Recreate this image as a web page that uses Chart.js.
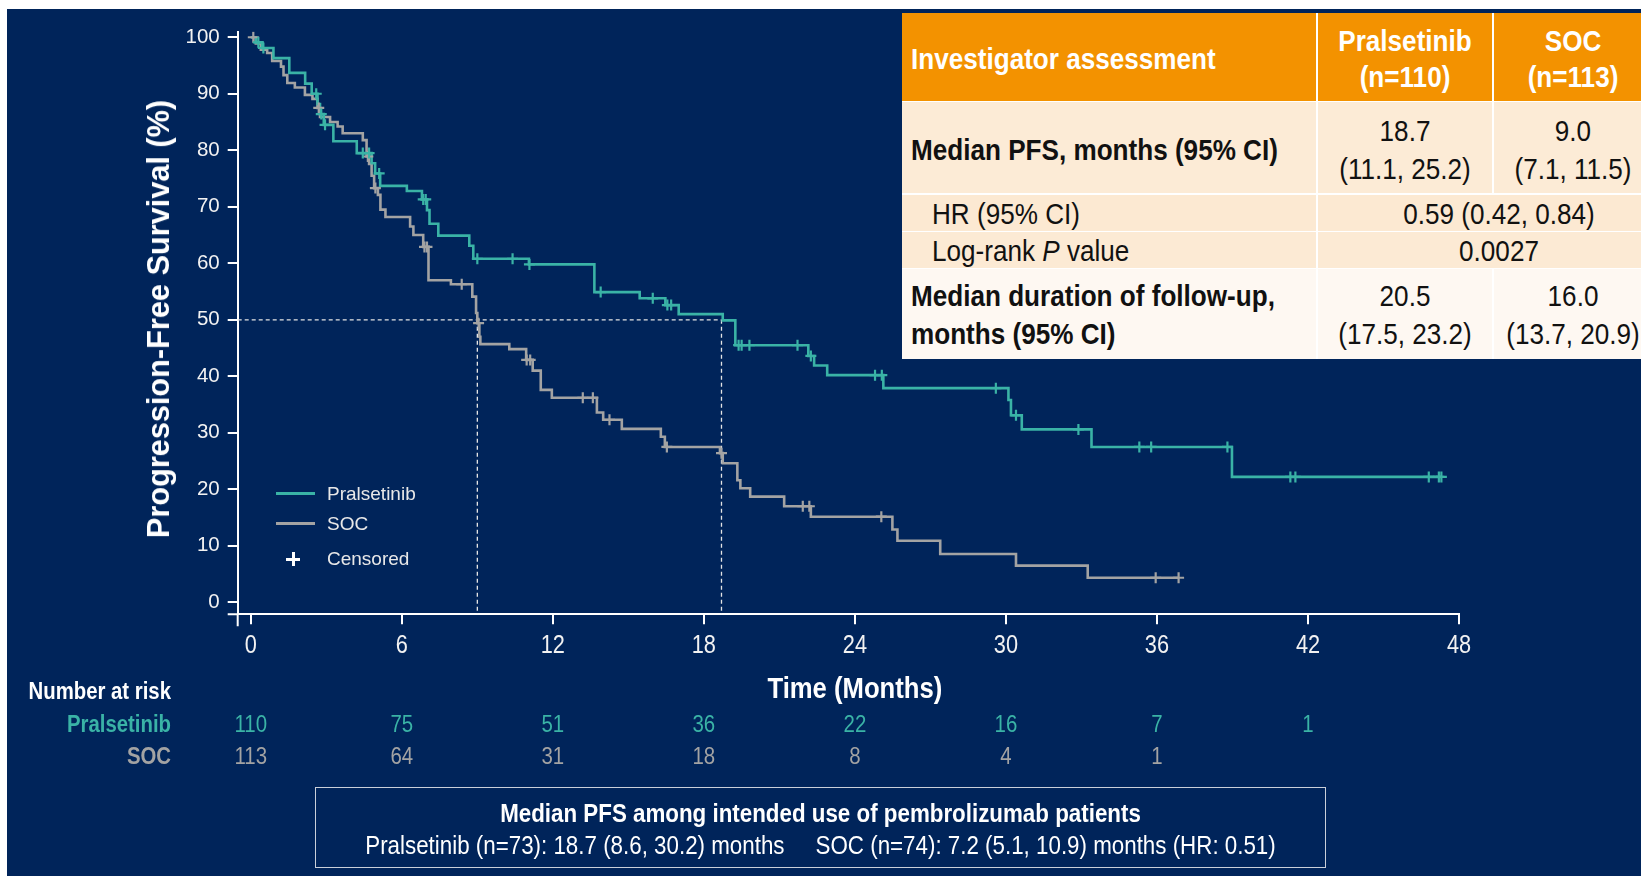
<!DOCTYPE html>
<html>
<head>
<meta charset="utf-8">
<title>Progression-Free Survival</title>
<script src="https://cdn.jsdelivr.net/npm/chart.js@4.4.1/dist/chart.umd.min.js"></script>
<style>
  html, body { margin: 0; padding: 0; width: 1641px; height: 882px; overflow: hidden; background: #ffffff; }
  body { position: relative; font-family: "Liberation Sans", Arial, sans-serif; }
  #panel { position: absolute; left: 7px; top: 9px; width: 1634px; height: 867px; background: #00245a; }
  #wrap { position: absolute; left: 0; top: 0; width: 1641px; height: 882px; }
  #ytitle { position: absolute; left: 159px; top: 319px; transform: translate(-50%, -50%) rotate(-90deg);
            white-space: nowrap; color: #ffffff; font-weight: bold; font-size: 30.7px; }
  .leg { position: absolute; color: #e8e8e8; font-size: 19px; white-space: nowrap; transform: translateY(-50%); }
  .sw { position: absolute; height: 3px; }
  #tbl { position: absolute; left: 902px; top: 12.6px; width: 760px; height: 346px; background: #ffffff; }
  .cell { position: absolute; box-sizing: border-box; }
  .tx { position: absolute; white-space: nowrap; color: #111111; font-size: 30px; line-height: 37px;
        transform: translate(-50%, -50%) scaleX(0.87); text-align: center; }
  .tl { position: absolute; white-space: nowrap; color: #111111; font-size: 30px; line-height: 37px;
        transform-origin: 0 50%; transform: translateY(-50%) scaleX(0.87); }
  #note { position: absolute; left: 315px; top: 787px; width: 1011px; height: 81px; box-sizing: border-box;
          border: 1.5px solid #c9cfd9; color: #ffffff; font-size: 25.7px; }
  #note div { position: absolute; left: -150px; width: calc(100% + 300px); text-align: center; white-space: nowrap;
              transform: translateY(-50%) scaleX(0.87); }
</style>
</head>
<body>
<div id="panel"></div>
<div id="wrap"><canvas id="km"></canvas></div>

<div id="ytitle">Progression-Free Survival (%)</div>

<!-- legend -->
<div class="sw" style="left:276px;top:492px;width:39px;background:#3ab3a6;"></div>
<div class="sw" style="left:276px;top:522px;width:39px;background:#a3a3a3;"></div>
<div style="position:absolute;left:286px;top:557.5px;width:14px;height:3px;background:#ffffff;"></div>
<div style="position:absolute;left:291.5px;top:552px;width:3px;height:14px;background:#ffffff;"></div>
<div class="leg" style="left:327px;top:494px;">Pralsetinib</div>
<div class="leg" style="left:327px;top:524px;">SOC</div>
<div class="leg" style="left:327px;top:559px;">Censored</div>

<!-- summary table -->
<div id="tbl">
  <div class="cell" style="left:0;top:0;width:413.6px;height:88px;background:#f39200;"></div>
  <div class="cell" style="left:415.6px;top:0;width:174px;height:88px;background:#f39200;"></div>
  <div class="cell" style="left:591.5px;top:0;width:200px;height:88px;background:#f39200;"></div>

  <div class="cell" style="left:0;top:89.9px;width:413.6px;height:90.5px;background:#fcebd6;"></div>
  <div class="cell" style="left:415.6px;top:89.9px;width:174px;height:90.5px;background:#fcebd6;"></div>
  <div class="cell" style="left:591.5px;top:89.9px;width:200px;height:90.5px;background:#fcebd6;"></div>

  <div class="cell" style="left:0;top:182px;width:413.6px;height:36px;background:#fce9d2;"></div>
  <div class="cell" style="left:415.6px;top:182px;width:400px;height:36px;background:#fce9d2;"></div>

  <div class="cell" style="left:0;top:219.7px;width:413.6px;height:35.5px;background:#fcead4;"></div>
  <div class="cell" style="left:415.6px;top:219.7px;width:400px;height:35.5px;background:#fcead4;"></div>

  <div class="cell" style="left:0;top:256.6px;width:413.6px;height:89.4px;background:#fef8f2;"></div>
  <div class="cell" style="left:415.6px;top:256.6px;width:174px;height:89.4px;background:#fef8f2;"></div>
  <div class="cell" style="left:591.5px;top:256.6px;width:200px;height:89.4px;background:#fef8f2;"></div>

  <div class="tl" style="left:8.5px;top:45px;color:#ffffff;font-weight:bold;">Investigator assessment</div>
  <div class="tx" style="left:502.5px;top:27px;color:#ffffff;font-weight:bold;">Pralsetinib</div>
  <div class="tx" style="left:502.5px;top:63px;color:#ffffff;font-weight:bold;">(n=110)</div>
  <div class="tx" style="left:671px;top:27px;color:#ffffff;font-weight:bold;">SOC</div>
  <div class="tx" style="left:671px;top:63px;color:#ffffff;font-weight:bold;">(n=113)</div>

  <div class="tl" style="left:8.5px;top:136px;font-weight:bold;">Median PFS, months (95% CI)</div>
  <div class="tx" style="left:502.5px;top:117.5px;">18.7</div>
  <div class="tx" style="left:502.5px;top:155px;">(11.1, 25.2)</div>
  <div class="tx" style="left:671px;top:117.5px;">9.0</div>
  <div class="tx" style="left:671px;top:155px;">(7.1, 11.5)</div>

  <div class="tl" style="left:29.5px;top:200px;">HR (95% CI)</div>
  <div class="tx" style="left:597px;top:200px;">0.59 (0.42, 0.84)</div>

  <div class="tl" style="left:29.5px;top:237.5px;">Log-rank <i>P</i> value</div>
  <div class="tx" style="left:597px;top:237.5px;">0.0027</div>

  <div class="tl" style="left:8.5px;top:282.5px;font-weight:bold;">Median duration of follow-up,</div>
  <div class="tl" style="left:8.5px;top:320.5px;font-weight:bold;">months (95% CI)</div>
  <div class="tx" style="left:502.5px;top:282.5px;">20.5</div>
  <div class="tx" style="left:502.5px;top:320.5px;">(17.5, 23.2)</div>
  <div class="tx" style="left:671px;top:282.5px;">16.0</div>
  <div class="tx" style="left:671px;top:320.5px;">(13.7, 20.9)</div>
</div>

<div id="note">
  <div style="top:25px;font-weight:bold;">Median PFS among intended use of pembrolizumab patients</div>
  <div style="top:57px;">Pralsetinib (n=73): 18.7 (8.6, 30.2) months&nbsp;&nbsp;&nbsp;&nbsp;&nbsp;SOC (n=74): 7.2 (5.1, 10.9) months (HR: 0.51)</div>
</div>

<script>
// Kaplan-Meier step points: survival (%) from each time (months) onward
const pralTimes = [0, 0.2, 0.45, 0.9, 1.53, 2.16, 2.42, 2.65, 2.75, 2.9, 3.28, 4.21, 4.8, 4.94, 5.14, 6.2, 6.8, 7.0, 7.1, 7.45,
                   8.68, 8.84, 11.05, 13.65, 15.45, 16.47, 17.0, 18.75, 19.25, 22.15, 22.38, 22.9, 25.13, 30.1, 30.2, 30.63, 33.4, 38.98, 47.3];
const pralSurv  = [100, 99.1, 98.1, 96.3, 93.7, 91.8, 90.0, 88.2, 86.4, 84.5, 81.6, 79.5, 77.7, 75.9, 73.7, 72.8, 71.3, 69.4, 67.0, 64.9,
                   63.1, 60.8, 59.8, 54.9, 53.8, 52.6, 51.0, 49.9, 45.5, 43.6, 41.9, 40.2, 37.9, 35.8, 33.1, 30.6, 27.5, 22.2, 22.2];
const pralCensor = [0.3, 0.5, 2.6, 2.8, 2.95, 4.45, 4.7, 5.1, 6.85, 6.95, 9.0, 10.4, 11.07, 13.9, 15.97, 16.55, 16.7, 19.38, 19.5,
                    19.81, 21.72, 22.25, 24.8, 25.07, 29.6, 30.4, 32.88, 35.3, 35.77, 38.8, 41.3, 41.5, 46.8, 47.2, 47.3];

const socTimes = [0, 0.2, 0.4, 0.65, 0.85, 1.2, 1.3, 1.45, 1.75, 2.15, 2.45, 2.65, 2.75, 3.15, 3.45, 3.65, 4.45, 4.6, 4.7, 4.8,
                  4.9, 5.05, 5.15, 5.35, 6.33, 6.46, 6.85, 7.06, 7.95, 8.8, 8.95, 9.0, 9.08, 9.12, 10.27, 10.94, 11.2, 11.52, 11.96,
                  13.75, 14.0, 14.74, 16.29, 16.45, 18.64, 18.75, 19.33, 19.45, 19.84, 21.19, 22.25, 25.49, 25.69, 27.39, 30.4, 33.25, 36.86];
const socSurv  = [100, 98.9, 97.8, 97.2, 95.8, 94.8, 93.3, 91.9, 91.1, 89.8, 89.1, 87.5, 85.9, 85.0, 84.2, 83.0, 81.8, 78.9, 77.6, 75.5,
                  73.3, 72.1, 69.5, 68.2, 66.5, 65.0, 62.9, 57.0, 56.3, 54.1, 51.2, 49.4, 47.0, 45.7, 44.8, 42.9, 41.0, 37.6, 36.2,
                  33.6, 32.3, 30.7, 29.3, 27.5, 26.4, 24.6, 21.6, 20.2, 18.7, 17.0, 15.15, 12.9, 10.9, 8.55, 6.5, 4.35, 4.35];
const socCensor = [0.1, 2.7, 4.65, 4.95, 6.9, 7.0, 8.38, 9.05, 10.96, 11.1, 13.19, 13.59, 14.25, 16.53, 18.7, 21.93, 22.19,
                   25.05, 35.95, 36.86];

// medians (months) marked with dashed guides at 50%
const medianPral = 18.7;
const medianSoc = 9.0;

// axis ticks
const xTickValues = [0, 6, 12, 18, 24, 30, 36, 42, 48];
const yTickValues = [0, 10, 20, 30, 40, 50, 60, 70, 80, 90, 100];

// number at risk
const riskTimes = [0, 6, 12, 18, 24, 30, 36, 42];
const riskPral  = [110, 75, 51, 36, 22, 16, 7, 1];
const riskSoc   = [113, 64, 31, 18, 8, 4, 1];

const TEAL = '#3ab3a6';
const GREY = '#a3a3a3';
const SANS = '"Liberation Sans", Arial, sans-serif';
const SQUEEZE = 0.87;
const X_MIN = -0.52, Y_MIN = -2.12;

const steps = (t, s) => t.map((v, i) => ({ x: v, y: s[i] }));
function survAt(t, s, when) {
  let v = s[0];
  for (let i = 0; i < t.length; i++) { if (t[i] <= when) v = s[i]; else break; }
  return v;
}
const marks = (c, t, s) => c.map(v => ({ x: v, y: survAt(t, s, v) }));

// condensed canvas text
function narrowText(ctx, text, x, y) {
  const w = ctx.measureText(text).width;
  ctx.fillText(text, x, y, w * SQUEEZE);
}

// axis overhang, x tick labels, axis title and number-at-risk table
const extras = {
  id: 'extras',
  afterDraw(chart) {
    const { ctx, chartArea: a, scales } = chart;
    const xs = scales.x;
    ctx.save();
    ctx.strokeStyle = '#ffffff';
    ctx.lineWidth = 2;
    ctx.beginPath();
    ctx.moveTo(a.left - 10, a.bottom); ctx.lineTo(a.left, a.bottom);
    ctx.moveTo(a.left, a.bottom); ctx.lineTo(a.left, a.bottom + 12);
    ctx.stroke();

    ctx.textBaseline = 'middle';
    ctx.textAlign = 'center';
    ctx.fillStyle = '#f2f2f2';
    ctx.font = '25px ' + SANS;
    xTickValues.forEach(v => narrowText(ctx, String(v), xs.getPixelForValue(v), 646));

    ctx.fillStyle = '#ffffff';
    ctx.font = 'bold 29.5px ' + SANS;
    narrowText(ctx, 'Time (Months)', xs.getPixelForValue(24), 689.5);

    ctx.textAlign = 'right';
    ctx.font = 'bold 23.4px ' + SANS;
    narrowText(ctx, 'Number at risk', 171, 693);
    ctx.fillStyle = TEAL;
    narrowText(ctx, 'Pralsetinib', 171, 726);
    ctx.fillStyle = GREY;
    narrowText(ctx, 'SOC', 171, 758);

    ctx.textAlign = 'center';
    ctx.font = '23.5px ' + SANS;
    ctx.fillStyle = TEAL;
    riskPral.forEach((n, i) => narrowText(ctx, String(n), xs.getPixelForValue(riskTimes[i]), 726));
    ctx.fillStyle = GREY;
    riskSoc.forEach((n, i) => narrowText(ctx, String(n), xs.getPixelForValue(riskTimes[i]), 758));
    ctx.restore();
  }
};

const guide = { borderColor: '#e4e4e4', borderWidth: 1.3, borderDash: [4, 3], pointRadius: 0, fill: false, order: 5 };

new Chart(document.getElementById('km'), {
  type: 'line',
  data: {
    datasets: [
      { label: 'Pralsetinib', data: steps(pralTimes, pralSurv), stepped: 'before', borderColor: TEAL, borderWidth: 2.6, pointRadius: 0, order: 1 },
      { label: 'SOC', data: steps(socTimes, socSurv), stepped: 'before', borderColor: GREY, borderWidth: 2.6, pointRadius: 0, order: 2 },
      { label: 'Pralsetinib censored', data: marks(pralCensor, pralTimes, pralSurv), showLine: false, pointStyle: 'cross',
        pointRadius: 5.5, borderColor: TEAL, pointBorderWidth: 2.2, order: 0 },
      { label: 'SOC censored', data: marks(socCensor, socTimes, socSurv), showLine: false, pointStyle: 'cross',
        pointRadius: 5.5, borderColor: GREY, pointBorderWidth: 2.2, order: 0 },
      Object.assign({ label: 'median 50%', data: [{ x: X_MIN, y: 50 }, { x: medianPral, y: 50 }] }, guide),
      Object.assign({ label: 'median SOC', data: [{ x: medianSoc, y: 50 }, { x: medianSoc, y: Y_MIN }] }, guide),
      Object.assign({ label: 'median Pralsetinib', data: [{ x: medianPral, y: 50 }, { x: medianPral, y: Y_MIN }] }, guide)
    ]
  },
  options: {
    responsive: true,
    maintainAspectRatio: false,
    animation: false,
    events: [],
    layout: { padding: { left: 0, top: 31.6, right: 182, bottom: 0 } },
    plugins: { legend: { display: false }, tooltip: { enabled: false } },
    scales: {
      x: {
        type: 'linear', min: X_MIN, max: 48,
        afterBuildTicks: s => { s.ticks = xTickValues.map(v => ({ value: v })); },
        afterFit: s => { s.height = 882 - 614.3; },
        ticks: { display: false },
        grid: { drawOnChartArea: false, drawTicks: true, tickLength: 10, color: '#ffffff', lineWidth: 2 },
        border: { display: true, color: '#ffffff', width: 2 }
      },
      y: {
        type: 'linear', min: Y_MIN, max: 101,
        afterBuildTicks: s => { s.ticks = yTickValues.map(v => ({ value: v })); },
        afterFit: s => { s.width = 237.7; },
        ticks: { padding: 8, color: '#f2f2f2', font: { family: SANS, size: 20.5 } },
        grid: { drawOnChartArea: false, drawTicks: true, tickLength: 10, color: '#ffffff', lineWidth: 2 },
        border: { display: true, color: '#ffffff', width: 2 }
      }
    }
  },
  plugins: [extras]
});
</script>
</body>
</html>
